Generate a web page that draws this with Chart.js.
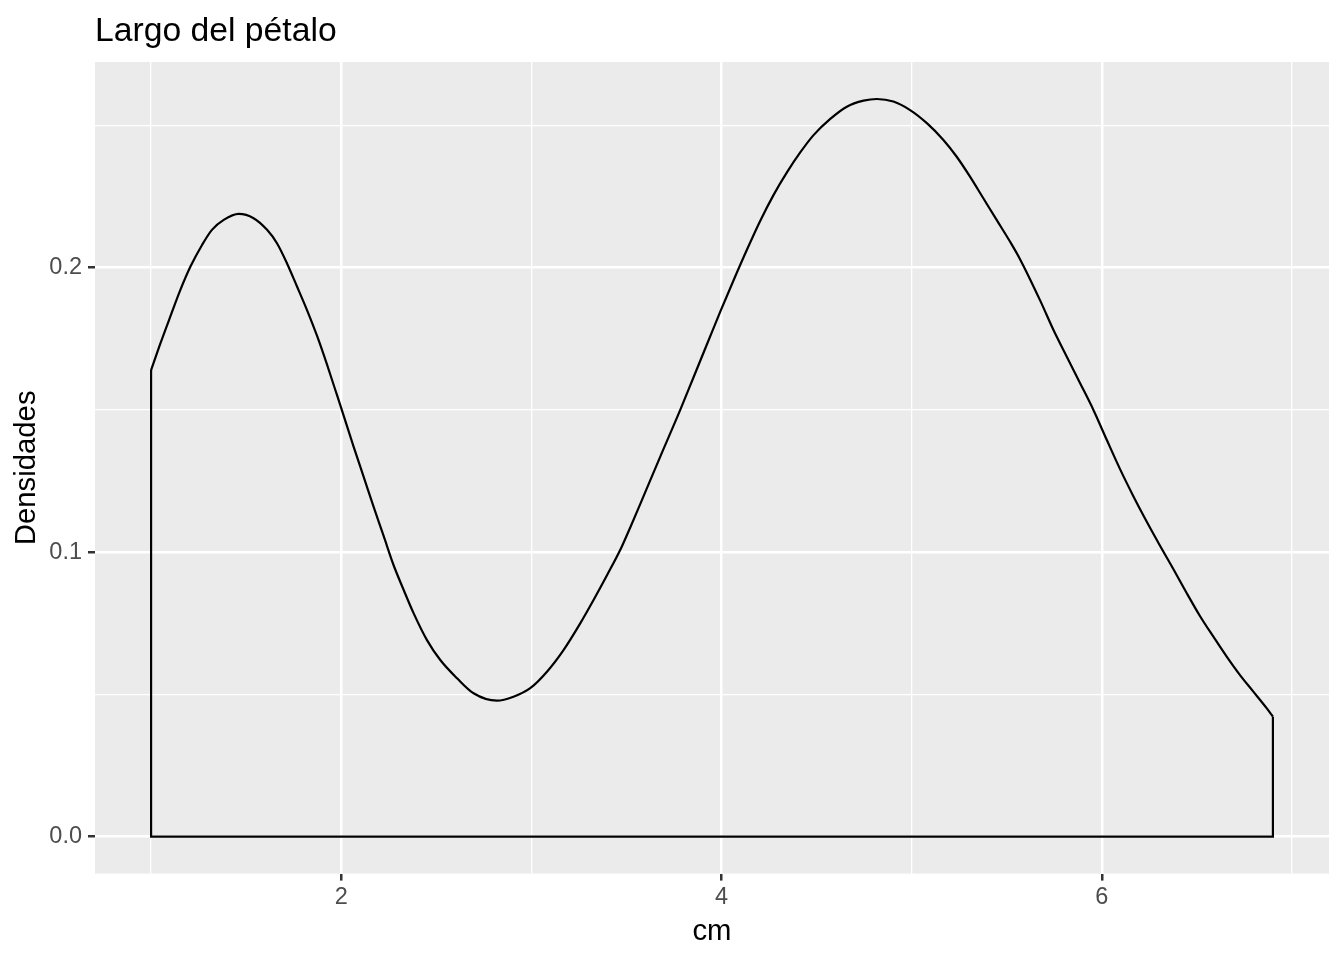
<!DOCTYPE html>
<html>
<head>
<meta charset="utf-8">
<title>Largo del pétalo</title>
<script src="https://cdn.jsdelivr.net/npm/chart.js@4/dist/chart.umd.min.js"></script>
<style>
  html, body { margin: 0; padding: 0; background: #fff; }
  canvas { display: block; }
</style>
</head>
<body>
<canvas id="density-chart" width="1344" height="960"></canvas>
<script>
// curva de densidad del largo del petalo
var largo = [1.000, 1.049, 1.101, 1.154, 1.207, 1.268, 1.320, 1.382, 1.461, 1.539,
    1.610, 1.662, 1.715, 1.768, 1.820, 1.873, 1.925, 1.969, 1.995, 2.065,
    2.118, 2.170, 2.223, 2.275, 2.328, 2.381, 2.451, 2.521, 2.609, 2.696,
    2.819, 2.906, 2.994, 3.082, 3.169, 3.257, 3.327, 3.397, 3.471, 3.520,
    3.573, 3.678, 3.783, 3.853, 3.923, 3.993, 4.063, 4.133, 4.204,
    4.274, 4.344, 4.414, 4.484, 4.572, 4.659, 4.747, 4.817, 4.904, 4.992,
    5.080, 5.167, 5.237, 5.307, 5.377, 5.447, 5.518, 5.570, 5.675,
    5.746, 5.816, 5.886, 5.956, 6.026, 6.096, 6.166, 6.236, 6.307, 6.377,
    6.447, 6.517, 6.587, 6.657, 6.727, 6.797, 6.868, 6.900];
var densidad = [0.1640, 0.1734, 0.1828, 0.1922, 0.2004, 0.2080, 0.2133, 0.2168, 0.2189, 0.2174,
    0.2133, 0.2086, 0.2015, 0.1933, 0.1851, 0.1760, 0.1660, 0.1570, 0.1517, 0.1371,
    0.1265, 0.1160, 0.1057, 0.0955, 0.0868, 0.0785, 0.0691, 0.0621, 0.0557, 0.0504,
    0.0478, 0.0492, 0.0522, 0.0580, 0.0656, 0.0750, 0.0832, 0.0918, 0.1013, 0.1087,
    0.1170, 0.1336, 0.1500, 0.1615, 0.1730, 0.1845, 0.1955, 0.2062, 0.2165,
    0.2256, 0.2335, 0.2405, 0.2466, 0.2523, 0.2566, 0.2587, 0.2593, 0.2584, 0.2554,
    0.2508, 0.2449, 0.2390, 0.2320, 0.2244, 0.2168, 0.2091, 0.2030, 0.1886,
    0.1781, 0.1687, 0.1594, 0.1500, 0.1395, 0.1292, 0.1197, 0.1108, 0.1022, 0.0940,
    0.0856, 0.0775, 0.0703, 0.0633, 0.0568, 0.0510, 0.0451, 0.0422];

var xTicks = [1, 2, 3, 4, 5, 6, 7];
var xLabels = [2, 4, 6];
var yTicks = [0, 0.05, 0.1, 0.15, 0.2, 0.25];
var yLabels = [0, 0.1, 0.2];

function isMajor(list, v) {
    return list.some(function (m) { return Math.abs(m - v) < 1e-9; });
}

var curva = [];
for (var i = 0; i < largo.length; i++) {
    curva.push({x: largo[i], y: densidad[i]});
}
// lados y base del contorno (como geom_density)
var n = largo.length - 1;
var borde = [
    {x: largo[0], y: densidad[0]},
    {x: largo[0], y: 0},
    {x: largo[n], y: 0},
    {x: largo[n], y: densidad[n]}
];

var panelBg = {
    id: 'panelBg',
    beforeDraw: function (chart) {
        var a = chart.chartArea;
        var ctx = chart.ctx;
        ctx.save();
        ctx.fillStyle = '#EBEBEB';
        ctx.fillRect(a.left, a.top, a.right - a.left, a.bottom - a.top);
        ctx.restore();
    }
};

Chart.defaults.font.family = "'Liberation Sans', Arial, sans-serif";

new Chart(document.getElementById('density-chart'), {
    type: 'line',
    data: {
        datasets: [{
            label: 'Densidades',
            data: curva,
            borderColor: '#000000',
            borderWidth: 2.2,
            pointRadius: 0,
            cubicInterpolationMode: 'monotone',
            fill: false
        }, {
            label: 'borde',
            data: borde,
            borderColor: '#000000',
            borderWidth: 2.2,
            pointRadius: 0,
            tension: 0,
            fill: false
        }]
    },
    options: {
        responsive: false,
        maintainAspectRatio: false,
        devicePixelRatio: 1,
        animation: false,
        layout: { padding: { top: 0, left: 0, right: 15, bottom: 0 } },
        plugins: {
            legend: { display: false },
            tooltip: { enabled: false },
            title: {
                display: true,
                text: 'Largo del pétalo',
                align: 'start',
                fullSize: false,
                color: '#000000',
                font: { size: 33.7, weight: 'normal' },
                padding: { top: 11.5, bottom: 10.06 }
            }
        },
        scales: {
            x: {
                type: 'linear',
                min: 0.705,
                max: 7.195,
                afterBuildTicks: function (s) {
                    s.ticks = xTicks.map(function (v) { return {value: v}; });
                },
                afterFit: function (s) { s.height = 86.4; },
                border: { display: false },
                grid: {
                    color: '#FFFFFF',
                    lineWidth: function (c) { return c.tick && isMajor(xLabels, c.tick.value) ? 2.5 : 1.3; },
                    tickColor: function (c) { return c.tick && isMajor(xLabels, c.tick.value) ? '#333333' : 'rgba(0,0,0,0)'; },
                    tickWidth: 2.5,
                    tickLength: 7
                },
                ticks: {
                    autoSkip: false,
                    maxRotation: 0,
                    padding: 3,
                    color: '#4D4D4D',
                    font: { size: 23.5 },
                    callback: function (v) { return isMajor(xLabels, v) ? String(v) : ''; }
                },
                title: {
                    display: true,
                    text: 'cm',
                    color: '#000000',
                    font: { size: 29.3 },
                    padding: { top: 0, bottom: 10.6 }
                }
            },
            y: {
                type: 'linear',
                min: -0.01297,
                max: 0.2723,
                afterBuildTicks: function (s) {
                    s.ticks = yTicks.map(function (v) { return {value: v}; });
                },
                afterFit: function (s) { s.width = 95; },
                border: { display: false },
                grid: {
                    color: '#FFFFFF',
                    lineWidth: function (c) { return c.tick && isMajor(yLabels, c.tick.value) ? 2.5 : 1.3; },
                    tickColor: function (c) { return c.tick && isMajor(yLabels, c.tick.value) ? '#333333' : 'rgba(0,0,0,0)'; },
                    tickWidth: 2.5,
                    tickLength: 7
                },
                ticks: {
                    autoSkip: false,
                    padding: 6,
                    color: '#4D4D4D',
                    font: { size: 23.5 },
                    callback: function (v) { return isMajor(yLabels, v) ? v.toFixed(1) : ''; }
                },
                title: {
                    display: true,
                    text: 'Densidades',
                    color: '#000000',
                    font: { size: 29.3 },
                    padding: { top: 9.4, bottom: 0 }
                }
            }
        }
    },
    plugins: [panelBg]
});
</script>
</body>
</html>
